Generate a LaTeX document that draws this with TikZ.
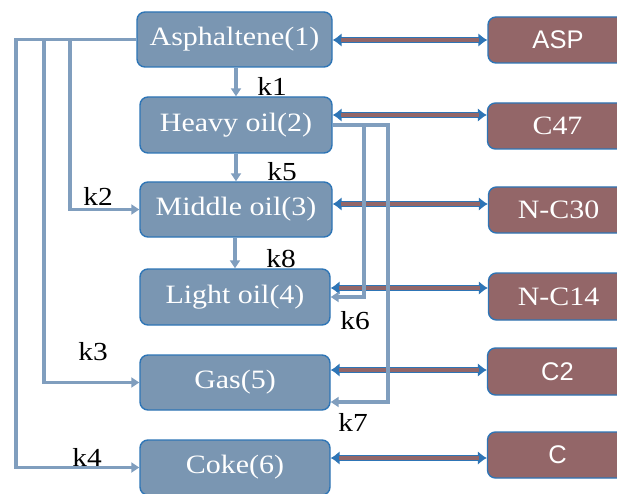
\documentclass[tikz,border=0pt]{standalone}
\usepackage{fontspec}
\setmainfont{Liberation Serif}[FakeStretch=1.13]
\setsansfont{Liberation Sans}
\usetikzlibrary{arrows.meta}
\definecolor{bfill}{RGB}{122,150,178}
\definecolor{bdraw}{RGB}{46,117,182}
\definecolor{rfill}{RGB}{147,102,104}
\definecolor{conncol}{RGB}{128,158,190}
\begin{document}
\begin{tikzpicture}[x=1pt,y=-1pt,
  bbox/.style={draw=bdraw, line width=1.4pt, fill=bfill, rounded corners=8pt,
    text=white, font=\fontsize{26.5}{28}\selectfont, inner sep=0pt},
  rbox/.style={draw=bdraw, line width=1.4pt, fill=rfill, rounded corners=8pt,
    text=white, inner sep=0pt, minimum width=140pt},
  serifr/.style={font=\fontsize{26.5}{28}\selectfont},
  sansr/.style={font=\sffamily\fontsize{25.5}{27}\selectfont},
  conn/.style={draw=conncol, line width=3.4pt},
  conna/.style={conn, -{Triangle[length=8pt,width=10pt]}},
  klab/.style={font=\fontsize{26}{28}\selectfont, text=black, inner sep=0pt},
  darrb/.style={draw=bdraw, line width=6pt, {Latex[length=9pt,width=14pt]}-{Latex[length=9pt,width=14pt]}},
  darrr/.style={draw=rfill, line width=3.4pt, shorten <=8pt, shorten >=8pt}
]
\useasboundingbox (0,0) rectangle (617,494);
\clip (0,0) rectangle (617,494);
\fill[white] (0,0) rectangle (617,494);

% blue boxes
\node[bbox, minimum width=195pt, minimum height=55pt] (a) at (234.5,39.5) {Asphaltene(1)};
\node[bbox, minimum width=192pt, minimum height=56pt] (h) at (236,125) {Heavy oil(2)};
\node[bbox, minimum width=192pt, minimum height=55pt] (m) at (236,209.5) {Middle oil(3)};
\node[bbox, minimum width=190pt, minimum height=56pt] (l) at (235,297) {Light oil(4)};
\node[bbox, minimum width=190pt, minimum height=55pt] (g) at (235,382.5) {Gas(5)};
\node[bbox, minimum width=190pt, minimum height=55pt] (c) at (235,467.5) {Coke(6)};

% red boxes
\node[rbox, sansr, minimum height=46pt] (asp) at (558,40) {ASP};
\node[rbox, serifr, minimum height=46pt] (c47) at (557.5,126) {C47};
\node[rbox, serifr, minimum height=46pt] (nc30) at (558.5,210) {N-C30};
\node[rbox, serifr, minimum height=47pt] (nc14) at (558.5,296.5) {N-C14};
\node[rbox, sansr, minimum height=47pt] (c2) at (557.5,371.5) {C2};
\node[rbox, sansr, minimum height=46pt] (cc) at (557.5,455) {C};

% double arrows
\foreach \p/\q/\yy in {a/asp/40, h/c47/115, m/nc30/204, l/nc14/288, g/c2/370, c/cc/458}{
  \draw[darrb] (\p.east |- 0,\yy) -- (\q.west |- 0,\yy);
  \draw[darrr] (\p.east |- 0,\yy) -- (\q.west |- 0,\yy);
}

% left connectors
\coordinate (x2) at (70,0);
\coordinate (x3) at (44,0);
\coordinate (x4) at (16,0);
\draw[conna] (a.west) -- (a.west -| x4) |- (c.west);
\draw[conna] (a.west) -- (a.west -| x3) |- (g.west);
\draw[conna] (a.west) -- (a.west -| x2) |- (m.west);

% vertical connectors
\draw[conna] (h.north |- a.south) -- (h.north);
\draw[conna] (m.north |- h.south) -- (m.north);
\draw[conna] (m.south -| l.north) -- (l.north);

% right connectors
\coordinate (x6) at (364,0);
\coordinate (x7) at (388,0);
\draw[conna] (h.east) -- (h.east -| x7) |- ([yshift=-19.5pt]g.east);
\draw[conna] (h.east) -- (h.east -| x6) |- (l.east);

% labels
\node[klab] (k1) at (272,86) {k1};
\node[klab] (k5) at (282,172) {k5};
\node[klab] (k2) at (98,196) {k2};
\node[klab] (k8) at (281,259) {k8};
\node[klab] (k6) at (355,321) {k6};
\node[klab] (k3) at (93,352) {k3};
\node[klab] (k7) at (353,422) {k7};
\node[klab] (k4) at (87,457) {k4};
\end{tikzpicture}
\end{document}
